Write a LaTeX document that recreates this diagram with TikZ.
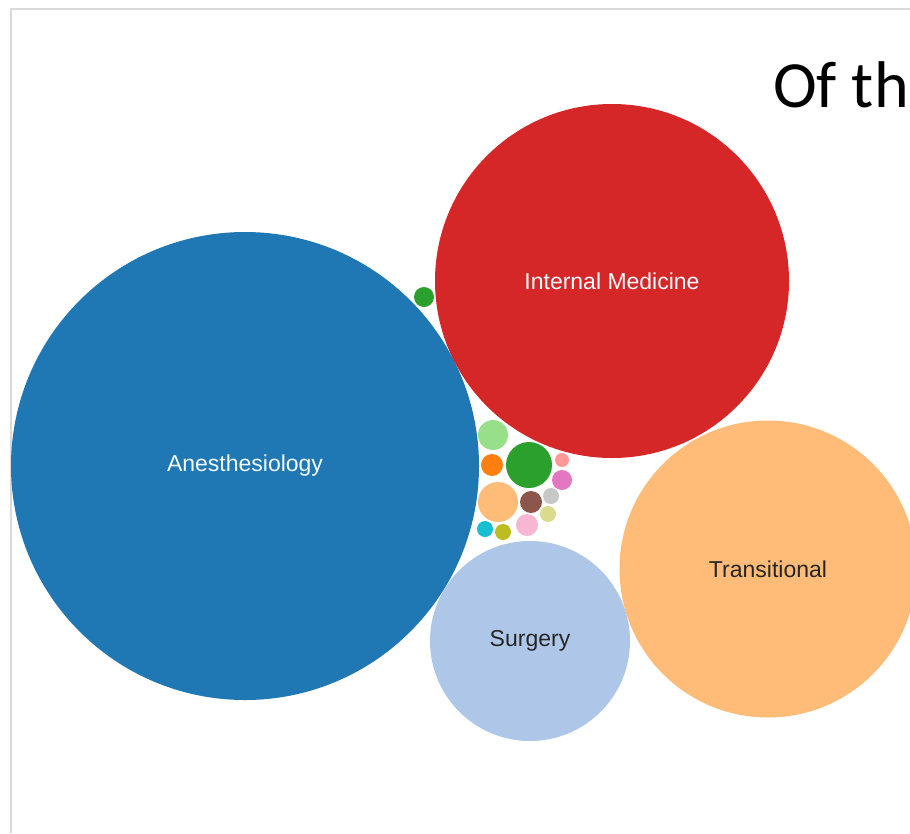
\documentclass[tikz,border=0pt]{standalone}
\usepackage{fontspec}
\setmainfont{Liberation Sans}
\newfontfamily\titlefont{Carlito}
\definecolor{catblue}{HTML}{1F77B4}
\definecolor{catblueL}{HTML}{AEC7E8}
\definecolor{catorange}{HTML}{FF7F0E}
\definecolor{catorangeL}{HTML}{FFBB78}
\definecolor{catgreen}{HTML}{2CA02C}
\definecolor{catgreenL}{HTML}{98DF8A}
\definecolor{catred}{HTML}{D62728}
\definecolor{catredL}{HTML}{FF9896}
\definecolor{catbrown}{HTML}{8C564B}
\definecolor{catpink}{HTML}{E377C2}
\definecolor{catpinkL}{HTML}{F7B6D2}
\definecolor{catgrayL}{HTML}{C7C7C7}
\definecolor{catolive}{HTML}{BCBD22}
\definecolor{catoliveL}{HTML}{DBDB8D}
\definecolor{catcyan}{HTML}{17BECF}
\definecolor{framegray}{HTML}{DADADA}
\begin{document}
\begin{tikzpicture}[x=1pt,y=-1pt,
  every node/.style = {shape=circle, draw=none, inner sep=0pt, align=center},
  bubble/.style = {font=\fontsize{23}{26}\selectfont},
  darklabel/.style = {bubble, text=black!85},
  lightlabel/.style = {bubble, text=white!95!cyan}]

  \useasboundingbox (0,0) rectangle (910,833);
  \clip (0,0) rectangle (910,833);
  \fill[white] (0,0) rectangle (910,833);
  \draw[framegray, line width=2pt] (11,833) -- (11,9) -- (910,9);

  % big bubbles
  \node[lightlabel, fill=catblue, minimum size=468pt] (anesth) at (245,466) {Anesthesiology};
  \node[lightlabel, fill=catred, minimum size=354pt] (intmed) at (612,281) {Internal Medicine};
  \node[darklabel, fill=catorangeL, minimum size=297pt] (trans) at (768,569) {Transitional};
  \node[darklabel, fill=catblueL, minimum size=200pt] (surg) at (530,641) {Surgery};

  % small bubbles
  \foreach \name/\px/\py/\r/\col in {
      sgreen/424/297/10/catgreen, lgreen/493/435/15/catgreenL,
      orange/492/465/11/catorange, green/529/465/23/catgreen,
      lred/562/460/7/catredL, pink/562/480/10/catpink,
      peach/498/502/20/catorangeL, brown/531/502/11/catbrown,
      lgray/551/496/8/catgrayL, lolive/548/514/8/catoliveL,
      lpink/527/525/11/catpinkL, cyan/485/529/8/catcyan,
      olive/503/532/8/catolive}
    \node[fill=\col, minimum size=2*\r pt] (\name) at (\px,\py) {};

  \node[shape=rectangle, anchor=base west, font=\titlefont\fontsize{66}{70}\selectfont]
    (title) at (773,107) {Of th};
\end{tikzpicture}
\end{document}
